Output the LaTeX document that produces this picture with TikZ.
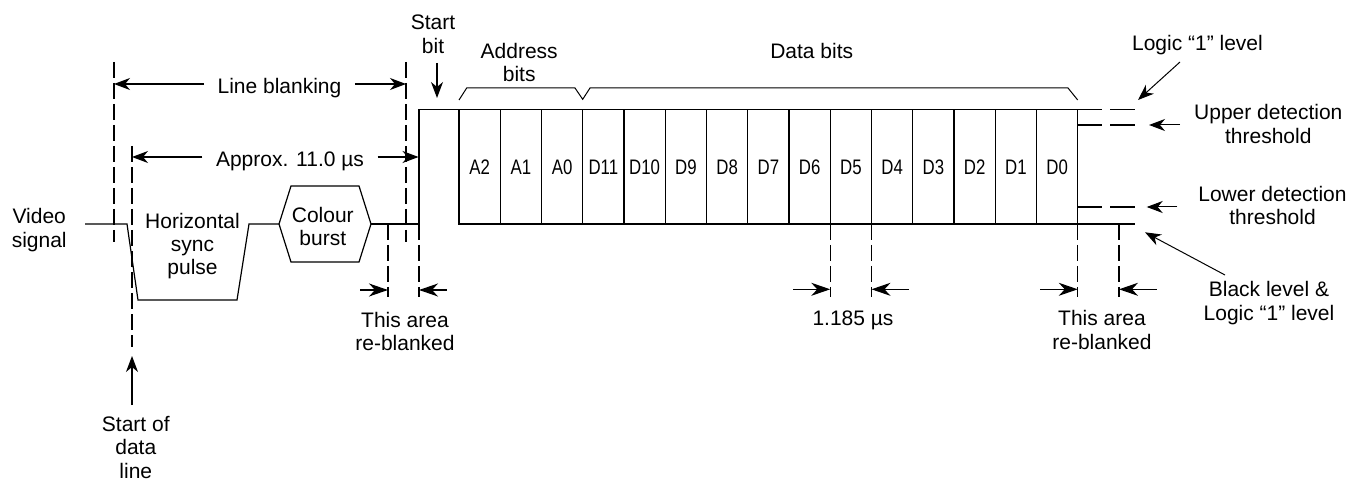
\documentclass[tikz,border=0pt]{standalone}
\usepackage{fontspec}
\setmainfont{Liberation Sans}
\newfontfamily\narrowfont[FakeStretch=0.8]{Liberation Sans}
\usetikzlibrary{arrows.meta}
\begin{document}
\begin{tikzpicture}[x=1pt,y=-1pt,line width=1.2pt,
  lbl/.style={font=\fontsize{21}{23.4}\selectfont,align=center,inner sep=0pt,anchor=base},
  cell/.style={font=\narrowfont\fontsize{21}{23.4}\selectfont,inner sep=0pt,anchor=base},
  dashline/.style={dash pattern=on 16pt off 5pt},
  arr/.style={-{Stealth[length=16pt,width=12pt,inset=5pt]}},
  dimarr/.style={-{Stealth[length=19pt,width=13pt,inset=6pt]}},
  thin/.style={line width=1pt}]
\useasboundingbox (0,0) rectangle (1350,481);

% ---- waveform ----
\draw (85,224) -- (127,224) -- (138,300) -- (237,300) -- (249,224) -- (279,224);
\draw (279,224) -- (291,186) -- (359,186) -- (371,224) -- (359,262) -- (291,262) -- cycle;
\draw (371,224) -- (419,224) -- (419,109.5) -- (1102,109.5);
\draw (1110,109.5) -- (1135,109.5);
\draw (459,109.5) -- (459,224) -- (1135,224);
\foreach \i in {1,...,15} \draw ({459+41.25*\i},109.5) -- ({459+41.25*\i},224);
\foreach \t [count=\i from 0] in {A2,A1,A0,D11,D10,D9,D8,D7,D6,D5,D4,D3,D2,D1,D0}
  \node[cell] (c\i) at ({459+41.25*\i+20.625},175) {\t};

% thresholds
\draw (1077.75,125) -- (1102,125) (1110,125) -- (1135,125);
\draw (1077.75,207) -- (1102,207) (1110,207) -- (1135,207);

% brace
\draw[thin] (459,100) -- (466.7,88) -- (575,88) -- (582.7,99.3) -- (590,88) -- (1068,88) -- (1077.7,100);

% ---- dashed guides ----
\draw[dashline] (114,62) -- (114,242);
\draw[dashline] (406,62) -- (406,242);
\draw[dashline] (132,146) -- (132,347);
\draw[dashline] (388,224) -- (388,297);
\draw[dashline] (419,224) -- (419,297);
\draw[dashline] (830.25,224) -- (830.25,297);
\draw[dashline] (871.5,224) -- (871.5,297);
\draw[dashline] (1077.75,224) -- (1077.75,297);
\draw[dashline] (1119,224) -- (1119,297);

% ---- labels (y = baseline of last line) ----
\node[lbl,inner xsep=13pt] (lb) at (279.5,94) {Line blanking};
\node[lbl,inner xsep=13pt] (ap) at (290,166.7) {Approx. 11.0 µs};
\node[lbl] (sb) at (433,53.3) {Start\\bit};
\node[lbl] (ab) at (519.2,81.7) {Address\\bits};
\node[lbl] (db) at (811.7,58.3) {Data bits};
\node[lbl] (l1) at (1197.5,51) {Logic “1” level};
\node[lbl] (ut) at (1268.3,143.3) {Upper detection\\threshold};
\node[lbl] (lt) at (1272.5,225) {Lower detection\\threshold};
\node[lbl] (vs) at (39.2,247.3) {Video\\signal};
\node[lbl] (hs) at (192.5,275) {Horizontal\\sync\\pulse};
\node[lbl] (cb) at (322.8,246) {Colour\\burst};
\node[lbl] (rb1) at (405,350.7) {This area\\re-blanked};
\node[lbl] (sd) at (135.8,478.3) {Start of\\data\\line};
\node[lbl] (us) at (853,325.7) {1.185 µs};
\node[lbl] (rb2) at (1102,349) {This area\\re-blanked};
\node[lbl] (bl) at (1269,320) {Black level \&\\Logic “1” level};

% ---- arrow coordinates ----
\coordinate (lbL) at (114,84);
\coordinate (lbR) at (406,84);
\coordinate (apL) at (132,157);
\coordinate (apR) at (418.5,157);
\coordinate (sbA) at (437,63);
\coordinate (sbB) at (437,98);
\coordinate (sdA) at (132,405);
\coordinate (sdB) at (132,356);
\coordinate (l1A) at (1180,62);
\coordinate (l1B) at (1138,100);
\coordinate (utA) at (1180,125);
\coordinate (utB) at (1149,125);
\coordinate (ltA) at (1177.3,207);
\coordinate (ltB) at (1146.7,207);
\coordinate (blA) at (1225,275);
\coordinate (blB) at (1145,232.3);

\draw[arr] (lb.west |- lbL) -- (lbL);
\draw[arr] (lb.east |- lbR) -- (lbR);
\draw[arr] (ap.west |- apL) -- (apL);
\draw[arr] (ap.east |- apR) -- (apR);
\draw[arr] (sbA) -- (sbB);
\draw[arr] (sdA) -- (sdB);
\draw[arr,thin] (l1A) -- (l1B);
\draw[arr,thin] (utA) -- (utB);
\draw[arr,thin] (ltA) -- (ltB);
\draw[arr,thin] (blA) -- (blB);

% dimension arrows
\draw[dimarr] (360,290) -- (388,290);
\draw[dimarr] (446.7,290) -- (419,290);
\draw[dimarr] (793,289.3) -- (830.25,289.3);
\draw[dimarr] (909,289.3) -- (871.5,289.3);
\draw[dimarr] (1040,289.3) -- (1077.75,289.3);
\draw[dimarr] (1156.7,289.3) -- (1119,289.3);
\end{tikzpicture}
\end{document}
